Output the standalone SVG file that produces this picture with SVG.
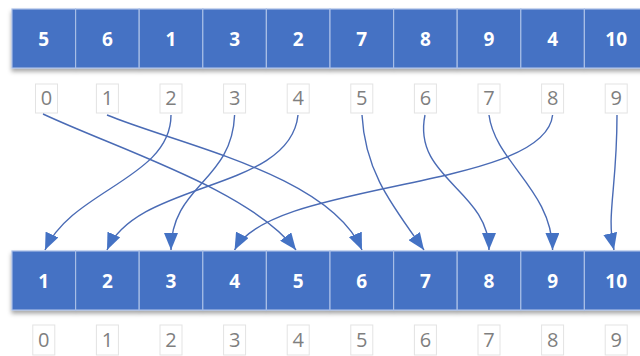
<svg xmlns="http://www.w3.org/2000/svg" width="640" height="356" viewBox="0 0 640 356">
<defs>
<style>
.cell{fill:#4472C4;stroke:#A7BDE6;stroke-width:1.2}
.val{font-family:"Open Sans","Noto Sans",sans-serif;font-weight:bold;font-size:19px;fill:#ffffff;text-anchor:middle}
.ibox{fill:#ffffff;stroke:#E3E3E3;stroke-width:1}
.idx{font-family:"Open Sans","Noto Sans",sans-serif;font-size:20px;fill:#7F7F7F;text-anchor:middle}
.conn{fill:none;stroke:#4A6BB5;stroke-width:1.4;marker-end:url(#ah)}
</style>
<filter id="sh" x="-5%" y="-20%" width="110%" height="150%">
<feDropShadow dx="0" dy="3" stdDeviation="2" flood-color="#000000" flood-opacity="0.35"/>
</filter>
<marker id="ah" viewBox="0 0 17 14" refX="17" refY="7" markerWidth="17" markerHeight="14" markerUnits="userSpaceOnUse" orient="auto">
<path d="M0,0 L17,7 L0,14 z" fill="#4472C4"/>
</marker>
</defs>
<rect width="640" height="356" fill="#ffffff"/>

<g id="top-array" filter="url(#sh)">
<rect class="cell" x="12" y="9" width="63.6" height="59"/>
<rect class="cell" x="75.6" y="9" width="63.6" height="59"/>
<rect class="cell" x="139.2" y="9" width="63.6" height="59"/>
<rect class="cell" x="202.8" y="9" width="63.6" height="59"/>
<rect class="cell" x="266.4" y="9" width="63.6" height="59"/>
<rect class="cell" x="330" y="9" width="63.6" height="59"/>
<rect class="cell" x="393.6" y="9" width="63.6" height="59"/>
<rect class="cell" x="457.2" y="9" width="63.6" height="59"/>
<rect class="cell" x="520.8" y="9" width="63.6" height="59"/>
<rect class="cell" x="584.4" y="9" width="63.6" height="59"/>
</g>
<g id="top-values">
<text class="val" x="43.8" y="46">5</text>
<text class="val" x="107.4" y="46">6</text>
<text class="val" x="171" y="46">1</text>
<text class="val" x="234.6" y="46">3</text>
<text class="val" x="298.2" y="46">2</text>
<text class="val" x="361.8" y="46">7</text>
<text class="val" x="425.4" y="46">8</text>
<text class="val" x="489" y="46">9</text>
<text class="val" x="552.6" y="46">4</text>
<text class="val" x="616.2" y="46">10</text>
</g>
<g id="top-indices">
<rect class="ibox" x="35.5" y="84" width="22" height="29"/><text class="idx" x="46.5" y="105">0</text>
<rect class="ibox" x="96.4" y="84" width="22" height="29"/><text class="idx" x="107.4" y="105">1</text>
<rect class="ibox" x="160" y="84" width="22" height="29"/><text class="idx" x="171" y="105">2</text>
<rect class="ibox" x="223.6" y="84" width="22" height="29"/><text class="idx" x="234.6" y="105">3</text>
<rect class="ibox" x="287.2" y="84" width="22" height="29"/><text class="idx" x="298.2" y="105">4</text>
<rect class="ibox" x="350.8" y="84" width="22" height="29"/><text class="idx" x="361.8" y="105">5</text>
<rect class="ibox" x="414.4" y="84" width="22" height="29"/><text class="idx" x="425.4" y="105">6</text>
<rect class="ibox" x="478" y="84" width="22" height="29"/><text class="idx" x="489" y="105">7</text>
<rect class="ibox" x="541.6" y="84" width="22" height="29"/><text class="idx" x="552.6" y="105">8</text>
<rect class="ibox" x="605.2" y="84" width="22" height="29"/><text class="idx" x="616.2" y="105">9</text>
</g>

<g id="connectors">
<path class="conn" d="M43,114 C120,150 250,190 296,250"/>
<path class="conn" d="M107,115 C180,145 330,175 362,250"/>
<path class="conn" d="M171,115 C171,178 72,190 45,250"/>
<path class="conn" d="M234.6,115 C232,182 171,185 171,250"/>
<path class="conn" d="M298,115 C290,192 138,180 107,250"/>
<path class="conn" d="M362,115 C365,172 392,205 424,250"/>
<path class="conn" d="M425,115 C412,178 489,190 489,250"/>
<path class="conn" d="M489,115 C495,162 552,190 552.6,250"/>
<path class="conn" d="M552.6,115 C545,190 270,180 234.6,250"/>
<path class="conn" d="M617,115 C617,190 606,215 614,250"/>
</g>

<g id="bottom-array" filter="url(#sh)">
<rect class="cell" x="12" y="251" width="63.6" height="59"/>
<rect class="cell" x="75.6" y="251" width="63.6" height="59"/>
<rect class="cell" x="139.2" y="251" width="63.6" height="59"/>
<rect class="cell" x="202.8" y="251" width="63.6" height="59"/>
<rect class="cell" x="266.4" y="251" width="63.6" height="59"/>
<rect class="cell" x="330" y="251" width="63.6" height="59"/>
<rect class="cell" x="393.6" y="251" width="63.6" height="59"/>
<rect class="cell" x="457.2" y="251" width="63.6" height="59"/>
<rect class="cell" x="520.8" y="251" width="63.6" height="59"/>
<rect class="cell" x="584.4" y="251" width="63.6" height="59"/>
</g>
<g id="bottom-values">
<text class="val" x="43.8" y="288">1</text>
<text class="val" x="107.4" y="288">2</text>
<text class="val" x="171" y="288">3</text>
<text class="val" x="234.6" y="288">4</text>
<text class="val" x="298.2" y="288">5</text>
<text class="val" x="361.8" y="288">6</text>
<text class="val" x="425.4" y="288">7</text>
<text class="val" x="489" y="288">8</text>
<text class="val" x="552.6" y="288">9</text>
<text class="val" x="616.2" y="288">10</text>
</g>
<g id="bottom-indices">
<rect class="ibox" x="32.8" y="325" width="22" height="30"/><text class="idx" x="43.8" y="347">0</text>
<rect class="ibox" x="96.4" y="325" width="22" height="30"/><text class="idx" x="107.4" y="347">1</text>
<rect class="ibox" x="160" y="325" width="22" height="30"/><text class="idx" x="171" y="347">2</text>
<rect class="ibox" x="223.6" y="325" width="22" height="30"/><text class="idx" x="234.6" y="347">3</text>
<rect class="ibox" x="287.2" y="325" width="22" height="30"/><text class="idx" x="298.2" y="347">4</text>
<rect class="ibox" x="350.8" y="325" width="22" height="30"/><text class="idx" x="361.8" y="347">5</text>
<rect class="ibox" x="414.4" y="325" width="22" height="30"/><text class="idx" x="425.4" y="347">6</text>
<rect class="ibox" x="478" y="325" width="22" height="30"/><text class="idx" x="489" y="347">7</text>
<rect class="ibox" x="541.6" y="325" width="22" height="30"/><text class="idx" x="552.6" y="347">8</text>
<rect class="ibox" x="605.2" y="325" width="22" height="30"/><text class="idx" x="616.2" y="347">9</text>
</g>
</svg>
